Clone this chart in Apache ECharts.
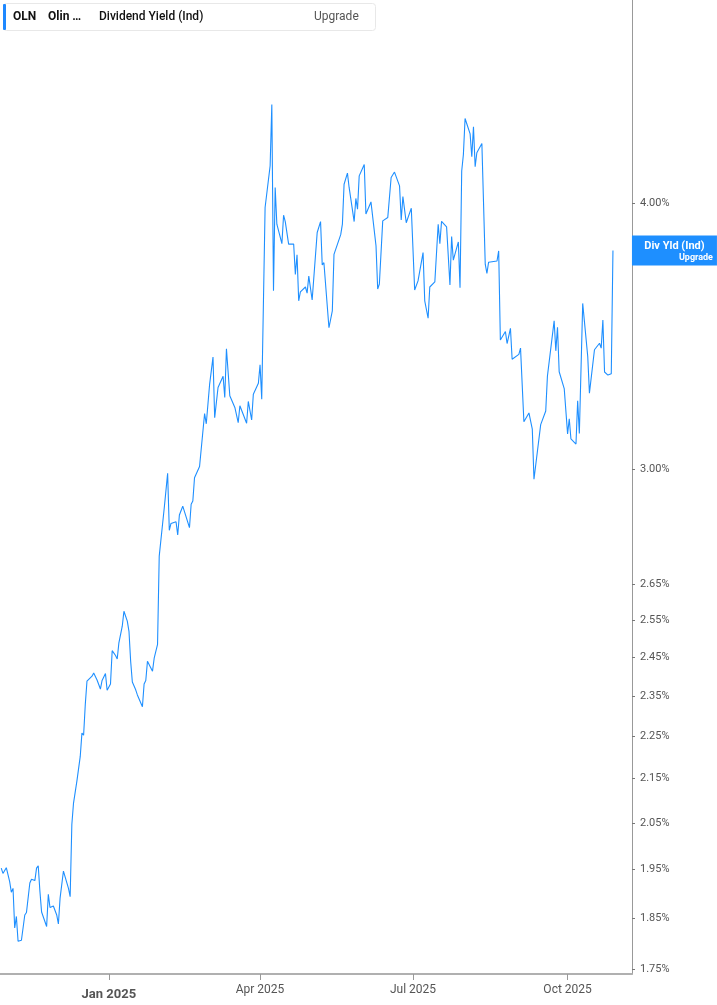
<!DOCTYPE html>
<html>
<head>
<meta charset="utf-8">
<script src="https://cdn.jsdelivr.net/npm/echarts@6/dist/echarts.min.js"></script>
<style>
html,body{margin:0;padding:0;background:#fff;}
#chart{width:717px;height:1005px;}
</style>
</head>
<body>
<div id="chart"></div>
<script>
// ---- data ----
var dates = [
'2024-10-29','2024-10-30','2024-11-01','2024-11-03','2024-11-04','2024-11-05','2024-11-06','2024-11-07','2024-11-08','2024-11-10',
'2024-11-11','2024-11-12','2024-11-13','2024-11-15','2024-11-16','2024-11-18','2024-11-19','2024-11-20','2024-11-21','2024-11-22',
'2024-11-25','2024-11-26','2024-11-27','2024-11-29','2024-12-01','2024-12-02','2024-12-03','2024-12-05','2024-12-08','2024-12-09',
'2024-12-10','2024-12-11','2024-12-12','2024-12-13','2024-12-15','2024-12-16','2024-12-17','2024-12-18','2024-12-19','2024-12-20',
'2024-12-22','2024-12-23','2024-12-25','2024-12-26','2024-12-27','2024-12-28','2024-12-30','2024-12-31','2025-01-02','2025-01-03',
'2025-01-05','2025-01-06','2025-01-07','2025-01-09','2025-01-10','2025-01-12','2025-01-13','2025-01-14','2025-01-15','2025-01-16',
'2025-01-17','2025-01-18','2025-01-21','2025-01-22','2025-01-23','2025-01-24','2025-01-27','2025-01-28','2025-01-29','2025-01-30',
'2025-01-31','2025-02-03','2025-02-04','2025-02-05','2025-02-06','2025-02-07','2025-02-10','2025-02-11','2025-02-12','2025-02-14',
'2025-02-18','2025-02-19','2025-02-20','2025-02-21','2025-02-24','2025-02-25','2025-02-27','2025-02-28','2025-03-02','2025-03-04',
'2025-03-05','2025-03-07','2025-03-10','2025-03-11','2025-03-12','2025-03-14','2025-03-17','2025-03-19','2025-03-20','2025-03-24',
'2025-03-25','2025-03-26','2025-03-27','2025-03-28','2025-03-31','2025-04-01','2025-04-02','2025-04-04','2025-04-07','2025-04-08',
'2025-04-09','2025-04-10','2025-04-11','2025-04-14','2025-04-15','2025-04-16','2025-04-18','2025-04-21','2025-04-22','2025-04-23',
'2025-04-24','2025-04-25','2025-04-28','2025-04-29','2025-04-30','2025-05-01','2025-05-02','2025-05-05','2025-05-07','2025-05-08',
'2025-05-09','2025-05-12','2025-05-14','2025-05-15','2025-05-16','2025-05-19','2025-05-20','2025-05-21','2025-05-22','2025-05-23',
'2025-05-24','2025-05-27','2025-05-28','2025-05-29','2025-05-30','2025-06-02','2025-06-03','2025-06-06','2025-06-09','2025-06-10',
'2025-06-11','2025-06-13','2025-06-16','2025-06-18','2025-06-20','2025-06-23','2025-06-24','2025-06-25','2025-06-27','2025-06-30',
'2025-07-02','2025-07-04','2025-07-07','2025-07-08','2025-07-09','2025-07-10','2025-07-11','2025-07-14','2025-07-16','2025-07-17',
'2025-07-18','2025-07-21','2025-07-23','2025-07-24','2025-07-25','2025-07-28','2025-07-29','2025-07-30','2025-07-31','2025-08-01',
'2025-08-04','2025-08-05','2025-08-06','2025-08-07','2025-08-08','2025-08-11','2025-08-13','2025-08-14','2025-08-15','2025-08-20',
'2025-08-21','2025-08-22','2025-08-25','2025-08-26','2025-08-27','2025-08-28','2025-08-29','2025-09-02','2025-09-03','2025-09-05',
'2025-09-08','2025-09-10','2025-09-11','2025-09-15','2025-09-16','2025-09-18','2025-09-19','2025-09-23','2025-09-24','2025-09-25',
'2025-09-26','2025-09-29','2025-10-01','2025-10-02','2025-10-03','2025-10-06','2025-10-07','2025-10-08','2025-10-10','2025-10-13',
'2025-10-14','2025-10-17','2025-10-20','2025-10-21','2025-10-22','2025-10-23','2025-10-25','2025-10-27','2025-10-28'
];
var yieldValues = [
1.952,1.941,1.953,1.924,1.902,1.910,1.830,1.853,1.804,1.806,
1.809,1.856,1.861,1.921,1.929,1.926,1.952,1.957,1.904,1.862,
1.833,1.898,1.871,1.874,1.856,1.838,1.890,1.946,1.910,1.893,
2.046,2.094,2.098,2.144,2.202,2.258,2.253,2.329,2.388,2.390,
2.401,2.409,2.391,2.388,2.368,2.390,2.408,2.365,2.381,2.468,
2.455,2.446,2.489,2.534,2.575,2.548,2.520,2.440,2.386,2.383,
2.366,2.353,2.323,2.381,2.390,2.440,2.414,2.448,2.449,2.485,
2.733,2.879,2.884,2.988,2.810,2.831,2.836,2.796,2.857,2.884,
2.818,2.890,2.900,2.974,3.010,3.004,3.187,3.152,3.290,3.387,
3.173,3.278,3.318,3.243,3.418,3.249,3.208,3.156,3.214,3.154,
3.229,3.228,3.165,3.254,3.293,3.359,3.237,3.980,4.163,4.447,
3.638,4.067,3.909,3.828,3.947,3.920,3.826,3.826,3.703,3.782,
3.599,3.634,3.653,3.629,3.696,3.690,3.602,3.874,3.920,3.741,
3.750,3.496,3.560,3.784,3.784,3.865,3.909,4.081,4.088,4.130,
4.067,3.920,4.019,3.973,4.118,4.169,3.952,4.004,3.819,3.645,
3.665,3.923,3.937,4.111,4.135,4.074,3.927,4.027,3.915,3.977,
3.641,3.677,3.791,3.599,3.602,3.532,3.653,3.673,3.909,3.828,
3.921,3.898,3.661,3.857,3.760,3.835,3.650,4.140,4.214,4.381,
4.309,4.204,4.342,4.159,4.222,4.264,3.744,3.707,3.752,3.757,
3.798,3.450,3.482,3.437,3.432,3.494,3.379,3.397,3.420,3.159,
3.189,3.134,2.969,3.149,3.151,3.196,3.318,3.522,3.410,3.498,
3.334,3.274,3.118,3.169,3.101,3.084,3.231,3.119,3.589,3.389,
3.258,3.414,3.438,3.420,3.525,3.333,3.322,3.327,3.800
];
var yTickValues = [1.75,1.85,1.95,2.05,2.15,2.25,2.35,2.45,2.55,2.65,3.00,4.00];
var xTickDates = ['2025-01-01','2025-04-01','2025-07-01','2025-10-01'];
var monthNames = ['Jan','Feb','Mar','Apr','May','Jun','Jul','Aug','Sep','Oct','Nov','Dec'];

function ts(s){ return Date.parse(s.length <= 10 ? s + 'T00:00:00Z' : s); }
var seriesData = dates.map(function(d,i){ return [ts(d), yieldValues[i]]; });
var xTicks = xTickDates.map(ts);

var chart = echarts.init(document.getElementById('chart'), null, {renderer:'canvas'});
var FONT = 'Roboto, "Noto Sans", sans-serif';

chart.setOption({
  animation:false,
  backgroundColor:'#fff',
  textStyle:{fontFamily:FONT},
  grid:{left:0, right:85, top:0, bottom:31, containLabel:false},
  xAxis:{
    type:'value',
    min:ts('2024-10-28T06:00:00Z'),
    max:ts('2025-11-08T08:00:00Z'),
    axisLine:{show:true, lineStyle:{color:'#b0b0b0', width:2}},
    axisTick:{show:true, customValues:xTicks, length:6, lineStyle:{color:'#999', width:1}},
    splitLine:{show:false},
    axisLabel:{
      customValues:xTicks,
      margin:10,
      color:'#555',
      fontSize:12,
      fontFamily:FONT,
      formatter:function(v){
        var d = new Date(v);
        var t = monthNames[d.getUTCMonth()] + ' ' + d.getUTCFullYear();
        return d.getUTCMonth()===0 ? '{b|' + t + '}' : t;
      },
      rich:{b:{fontSize:13, fontWeight:'bold', color:'#555', fontFamily:FONT, padding:[4,0,0,0]}}
    }
  },
  yAxis:{
    type:'log',
    logBase:10,
    position:'right',
    min:1.7415,
    max:4.978,
    axisLine:{show:true, lineStyle:{color:'#999', width:1}},
    axisTick:{show:true, customValues:yTickValues, length:3, lineStyle:{color:'#777'}},
    splitLine:{show:false},
    minorTick:{show:false},
    axisLabel:{
      customValues:yTickValues,
      margin:8,
      color:'#555',
      fontSize:11,
      fontFamily:FONT,
      formatter:function(v){ return Number(v).toFixed(2) + '%'; }
    }
  },
  series:[{
    type:'line',
    data:seriesData,
    showSymbol:false,
    symbol:'none',
    lineStyle:{color:'#1e8fff', width:1.1},
    endLabel:{
      show:true,
      distance:19,
      formatter:function(){ return '{a|Div Yld (Ind)}\n{b|Upgrade}'; },
      backgroundColor:'#1e8fff',
      width:77,
      padding:[4,4,3,4],
      rich:{
        a:{color:'#fff', fontSize:11, fontWeight:'bold', fontFamily:FONT, align:'center', lineHeight:13},
        b:{color:'#fff', fontSize:9, fontWeight:'bold', fontFamily:FONT, align:'right', lineHeight:10}
      }
    }
  }],
  graphic:[
    {type:'rect', shape:{x:3.5, y:3.5, width:372, height:27, r:3}, style:{fill:'#fff', stroke:'#e8e8e8', lineWidth:1}, z:100},
    {type:'rect', shape:{x:3, y:4, width:3, height:26, r:1}, style:{fill:'#1e88ff'}, z:101},
    {type:'text', x:13, y:17, style:{text:'OLN', font:'bold 12px ' + FONT, fill:'#111', verticalAlign:'middle'}, z:101},
    {type:'text', x:48, y:17, style:{text:'Olin …', font:'bold 12px ' + FONT, fill:'#111', verticalAlign:'middle'}, z:101},
    {type:'text', x:99, y:17, style:{text:'Dividend Yield (Ind)', font:'500 12px ' + FONT, fill:'#111', verticalAlign:'middle'}, z:101},
    {type:'text', x:314, y:17, style:{text:'Upgrade', font:'12px ' + FONT, fill:'#555', verticalAlign:'middle'}, z:101}
  ]
});
</script>
</body>
</html>
